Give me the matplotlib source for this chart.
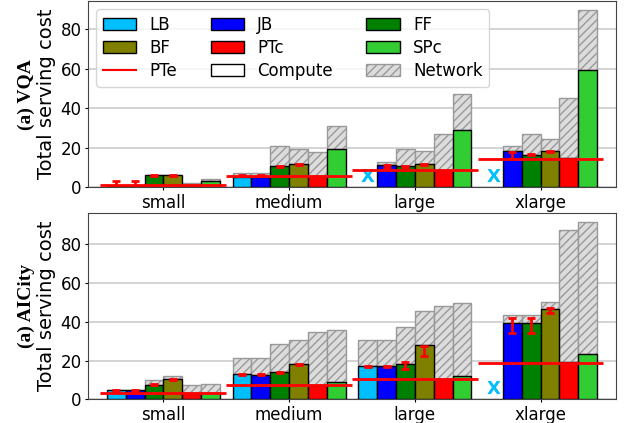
import numpy as np
import matplotlib
matplotlib.use('Agg')
import matplotlib.pyplot as plt
from matplotlib.patches import Patch
from matplotlib.lines import Line2D

#groups and methods (bar order inside each group)
groups = ['small', 'medium', 'large', 'xlarge']
methods = ['LB', 'JB', 'FF', 'BF', 'PTc', 'SPc']
colors = ['deepskyblue', 'blue', 'green', 'olive', 'red', 'limegreen']

#VQA: compute part and total (compute + network), None = not feasible
vqa_compute = [
    [0.5, 5.5, None, None],    # LB
    [0.5, 5.5, 11.4, 18.3],    # JB
    [6.1, 10.8, 10.9, 16.5],   # FF
    [6.1, 11.8, 12.1, 18.3],   # BF
    [1.3, 6.0, 8.7, 14.9],     # PTc
    [3.0, 19.3, 28.9, 59.3],   # SPc
]
vqa_total = [
    [0.7, 7.4, None, None],
    [0.7, 7.4, 12.8, 21.2],
    [6.5, 21.0, 19.5, 26.9],
    [6.5, 19.5, 18.2, 24.3],
    [2.4, 18.0, 27.0, 45.2],
    [4.5, 31.3, 47.2, 90.0],
]
vqa_pte = [1.3, 5.7, 8.6, 14.5]
#error bars for LB, JB, FF, BF (center, half size)
vqa_err_mid = [
    [0.5, 6.0, None, None],
    [0.5, 6.0, 10.4, 16.0],
    [6.2, 10.7, 10.6, 16.5],
    [6.2, 11.7, 11.8, 18.0],
]
vqa_err = [
    [2.9, 0.3, None, None],
    [2.9, 0.3, 0.8, 1.7],
    [0.3, 0.3, 0.3, 0.3],
    [0.3, 0.3, 0.3, 0.3],
]

#AICity
aic_compute = [
    [4.6, 12.9, 17.0, None],
    [4.6, 12.4, 17.0, 39.5],
    [7.6, 14.1, 18.2, 39.5],
    [10.5, 18.0, 28.0, 46.7],
    [3.3, 7.6, 10.5, 19.1],
    [3.3, 8.8, 11.9, 23.2],
]
aic_total = [
    [4.8, 21.1, 30.6, None],
    [4.8, 21.1, 30.6, 43.3],
    [9.9, 28.3, 37.4, 43.3],
    [11.8, 30.4, 45.7, 50.0],
    [7.4, 34.7, 48.1, 87.3],
    [7.7, 35.9, 49.5, 91.7],
]
aic_pte = [3.3, 7.4, 10.3, 18.9]
aic_err_mid = [
    [4.3, 13.0, 17.0, None],
    [4.3, 12.6, 17.0, 38.3],
    [7.7, 14.0, 17.5, 38.3],
    [10.3, 18.0, 25.1, 45.7],
]
aic_err = [
    [0.3, 0.3, 0.3, None],
    [0.3, 0.3, 0.3, 3.9],
    [0.3, 0.3, 2.0, 3.9],
    [0.4, 0.3, 2.5, 1.3],
]

width = 0.15
x = np.arange(len(groups))


def draw(ax, compute, total, pte, err_mid, err, name):
    ax.yaxis.grid(True, color='#cccccc', linewidth=1.2)
    ax.set_axisbelow(True)
    for m in range(len(methods)):
        off = (m - 2.5) * width
        for g in range(len(groups)):
            c = compute[m][g]
            xx = x[g] + off
            if c is None:
                ax.text(xx, 0.8, 'X', color='deepskyblue', fontsize=13,
                        fontweight='bold', ha='center', va='bottom')
                continue
            t = total[m][g]
            ax.bar(xx, t - c, width, bottom=c, facecolor='#dcdcdc',
                   edgecolor='#999999', hatch='////', linewidth=1, zorder=2)
            ax.bar(xx, c, width, color=colors[m], edgecolor='black',
                   linewidth=1, zorder=3)
            if m < 4 and err_mid[m][g] is not None:
                ax.errorbar(xx, err_mid[m][g], yerr=err[m][g], fmt='none',
                            ecolor='red', elinewidth=2, capsize=3,
                            capthick=2, zorder=5)
    for g in range(len(groups)):
        ax.hlines(pte[g], x[g] - 0.5, x[g] + 0.5, color='red', linewidth=2,
                  zorder=4)
    ymax = max(v for row in total for v in row if v is not None)
    ax.set_ylim(0, ymax * 1.05)
    ax.set_xlim(-0.6, len(groups) - 0.4)
    ax.set_xticks(x)
    ax.set_xticklabels(groups)
    ax.set_yticks([0, 20, 40, 60, 80])
    ax.tick_params(labelsize=12, length=2.2, pad=2.5)
    for s in ax.spines.values():
        s.set_color('#444444')
    ax.set_ylabel('Total serving cost', fontsize=14, labelpad=3)
    ax.text(-0.117, 0.5, name, transform=ax.transAxes, rotation=90,
            ha='center', va='center', fontsize=14, fontweight='bold',
            family='Liberation Serif')


fig = plt.figure(figsize=(6.28, 4.23), dpi=100)
ax1 = fig.add_axes([0.140, 0.557, 0.841, 0.441])
ax2 = fig.add_axes([0.140, 0.056, 0.841, 0.441])

draw(ax1, vqa_compute, vqa_total, vqa_pte, vqa_err_mid, vqa_err, '(a) VQA')
draw(ax2, aic_compute, aic_total, aic_pte, aic_err_mid, aic_err, '(a) AICity')

#legend (column-major order so that rows read LB JB FF / BF PTc SPc / ...)
h = {}
for m in range(len(methods)):
    h[methods[m]] = Patch(facecolor=colors[m], edgecolor='black', label=methods[m])
h['PTe'] = Line2D([], [], color='red', label='PTe')
h['Compute'] = Patch(facecolor='white', edgecolor='black', label='Compute')
h['Network'] = Patch(facecolor='#dcdcdc', edgecolor='#999999', hatch='////',
                     label='Network')
order = ['LB', 'BF', 'PTe', 'JB', 'PTc', 'Compute', 'FF', 'SPc', 'Network']
ax1.legend(handles=[h[k] for k in order], ncol=3, loc='upper left',
           fontsize=12, labelspacing=0.3)

plt.savefig('out.png', dpi=100)
